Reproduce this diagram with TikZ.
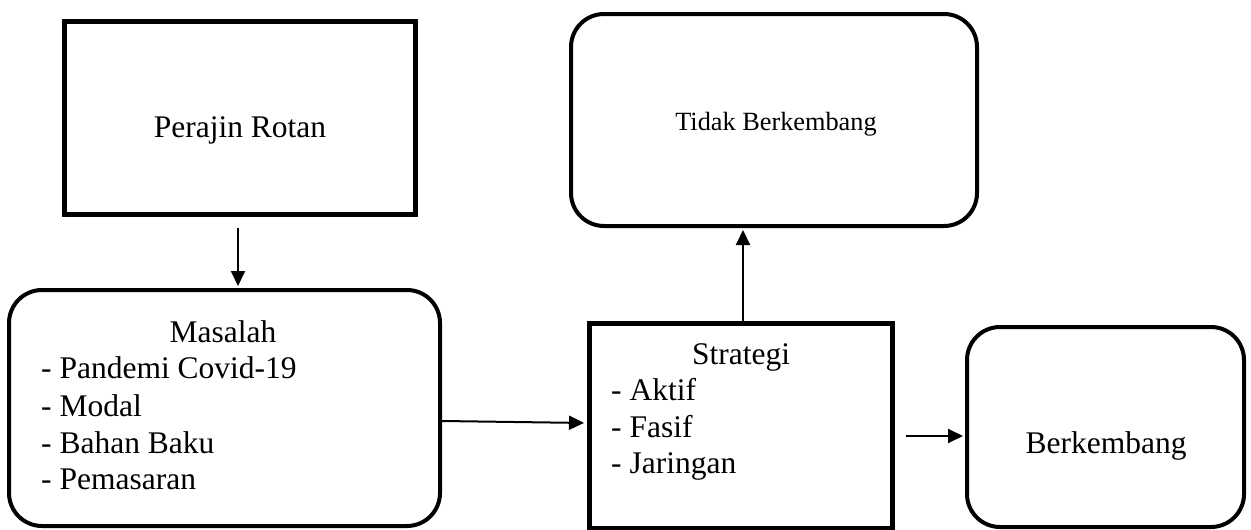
\documentclass[tikz,border=0pt]{standalone}
\usepackage{fontspec}
\setmainfont{Liberation Serif}
\usetikzlibrary{arrows.meta,calc}
\begin{document}
\begin{tikzpicture}[x=1pt,y=-1pt,
  sqbox/.style={draw, line width=5pt, inner sep=0pt},
  rbox/.style={draw, line width=4pt, rounded corners=33pt, inner sep=0pt},
  lbl/.style={font=\fontsize{31.5}{37}\selectfont, inner sep=0pt, anchor=base},
  itemlbl/.style={lbl, anchor=base west},
  arr/.style={line width=2pt, -{Triangle[length=15pt,width=14pt]}}]
\useasboundingbox (0,0) rectangle (1251,530);
% boxes
\node[sqbox, minimum width=351pt, minimum height=193pt] (perajin) at (240,118) {};
\node[lbl] (perajinT) at (240,137) {Perajin Rotan};
\node[rbox, minimum width=406pt, minimum height=212pt] (tidak) at (774,120) {};
\node[lbl, font=\fontsize{26.3}{30}\selectfont] (tidakT) at (776,130) {Tidak Berkembang};
\node[rbox, minimum width=431pt, minimum height=236pt] (masalah) at (224.5,408) {};
\node[lbl] (masT) at (223,342) {Masalah};
\node[itemlbl] (m1) at (41,378) {- Pandemi Covid-19};
\node[itemlbl] (m2) at (41,416) {- Modal};
\node[itemlbl] (m3) at (41,453) {- Bahan Baku};
\node[itemlbl] (m4) at (41,489) {- Pemasaran};
\node[sqbox, minimum width=303.5pt, minimum height=205pt] (strategi) at (740.75,426) {};
\node[lbl] (strT) at (741,364) {Strategi};
\node[itemlbl] (s1) at (611,400) {- Aktif};
\node[itemlbl] (s2) at (611,437) {- Fasif};
\node[itemlbl] (s3) at (611,473) {- Jaringan};
\node[rbox, minimum width=277pt, minimum height=200pt] (berk) at (1105.5,427) {};
\node[lbl] (berkT) at (1106,453) {Berkembang};
% arrows
\coordinate (a1) at ([xshift=-2pt]perajin.south);
\draw[arr, shorten <=10.5pt, shorten >=2pt] (a1) -- (a1 |- masalah.north);
\draw[arr, shorten >=2.5pt] ([yshift=-13pt]masalah.east) -- ([yshift=3pt]strategi.west);
\coordinate (a3) at ([xshift=2.25pt]strategi.north);
\draw[arr, shorten >=2pt] (a3) -- (a3 |- tidak.south);
\coordinate (a4) at ([yshift=-10pt]strategi.east);
\draw[arr, shorten <=10.5pt, shorten >=2pt] (a4) -- (a4 -| berk.west);
\end{tikzpicture}
\end{document}
